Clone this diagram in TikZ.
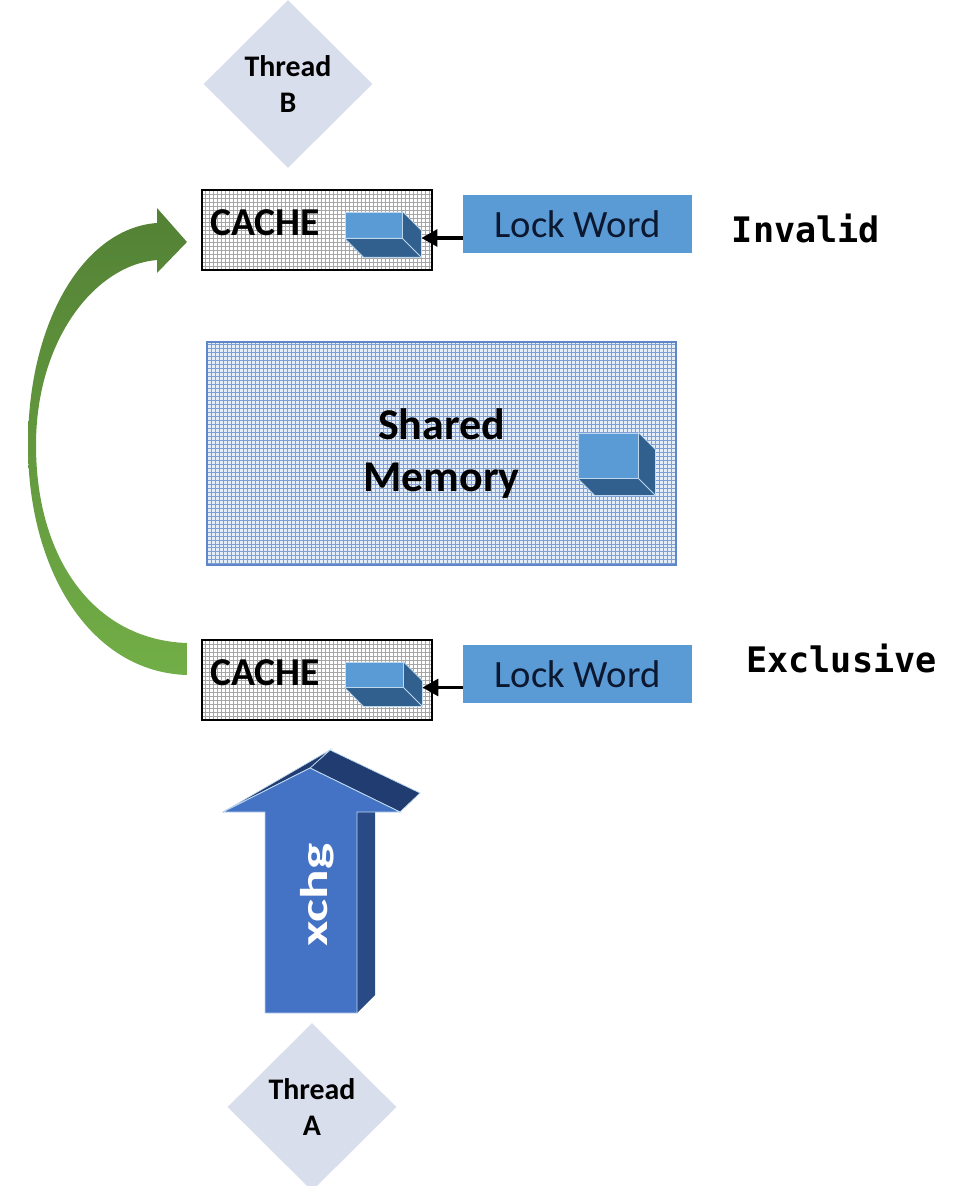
\documentclass[tikz,border=0pt]{standalone}
\usepackage{fontspec}
\usepackage{graphicx}
\usetikzlibrary{shapes.geometric,arrows.meta}

\newfontfamily\calibri{Carlito}
\newfontfamily\consolas{DejaVu Sans Mono}

\definecolor{threadfill}{HTML}{D9DEEC}
\definecolor{lockfill}{HTML}{5B9BD5}
\definecolor{locktext}{HTML}{0C1830}
\definecolor{blockdark}{HTML}{31608F}
\definecolor{blockedge}{HTML}{BDD7EE}
\definecolor{memfill}{HTML}{E3EEF9}
\definecolor{memgrid}{HTML}{7F9FD6}
\definecolor{memborder}{HTML}{5F86C8}
\definecolor{greentop}{HTML}{538135}
\definecolor{greenbottom}{HTML}{72AE47}
\definecolor{xchgfront}{HTML}{4472C4}
\definecolor{xchgtop}{HTML}{203C70}
\definecolor{xchgside}{HTML}{2A4A85}

\tikzset{
  thread/.style={diamond, fill=threadfill, minimum width=3.38cm, minimum height=3.36cm,
    inner sep=0pt, align=center, font=\calibri\bfseries\fontsize{17}{21}\selectfont},
  cachebox/.style={draw=black, fill=white, line width=1.2pt, minimum width=4.6cm, minimum height=1.6cm,
    path picture={\draw[gray!70, line width=0.3pt, step=0.08cm]
      (path picture bounding box.south west) grid (path picture bounding box.north east);}},
  cachelabel/.style={anchor=base west, inner sep=0pt, font=\calibri\bfseries\fontsize{22.5}{22.5}\selectfont},
  lockword/.style={fill=lockfill, minimum width=4.58cm, minimum height=1.16cm, text=locktext,
    font=\calibri\fontsize{22}{22}\selectfont},
  memory/.style={draw=memborder, fill=memfill, line width=1.5pt, minimum width=9.38cm, minimum height=4.46cm,
    align=center, font=\calibri\bfseries\fontsize{25}{30}\selectfont,
    path picture={\draw[memgrid, line width=0.35pt, step=0.08cm]
      (path picture bounding box.south west) grid (path picture bounding box.north east);}},
  blockface/.style={fill=lockfill, draw=blockedge, line width=0.5pt, inner sep=0pt},
  blockside/.style={fill=blockdark, draw=blockedge, line width=0.5pt, line join=round},
  statelabel/.style={anchor=base, inner sep=0pt, font=\consolas\bfseries\fontsize{20}{20}\selectfont},
  lockptr/.style={draw=black, line width=2pt, -{Triangle[length=9pt,width=9.5pt]}},
  greenarrow/.style={top color=greentop, bottom color=greenbottom},
  xchgtext/.style={rotate=90, text=white, inner sep=0pt, font=\calibri\bfseries\fontsize{22}{22}\selectfont}
}

% front face as a node, right and bottom faces drawn behind it
\newcommand{\lockblock}[5]{%
  \node[blockface, minimum width=#3, minimum height=#4] (#1) at #2 {};
  \filldraw[blockside] (#1.north east) -- ([shift={(#5,#5)}]#1.north east)
    -- ([shift={(#5,#5)}]#1.south east) -- ([shift={(#5,#5)}]#1.south west)
    -- (#1.south west) -- (#1.south east) -- cycle;
  \draw[blockedge, line width=0.5pt] (#1.south east) -- ([shift={(#5,#5)}]#1.south east);
}

\begin{document}
\begin{tikzpicture}[x=0.02cm, y=-0.02cm]
  \useasboundingbox (0,0) rectangle (961,1186);

  % threads
  \node[thread] (threadB) at (288,84) {Thread\\B};
  \node[thread] (threadA) at (312,1107) {Thread\\A};

  % cache of thread B
  \node[cachebox] (cacheB) at (317,230) {};
  \node[cachelabel] (cacheBtext) at ([shift={(9,5)}]cacheB.west) {CACHE};
  \lockblock{blkB}{(373.5,225)}{1.14cm}{0.52cm}{19}
  \node[lockword] (lockB) at (577.5,224) {Lock Word};
  \coordinate (tipB) at ([shift={(19,13)}]blkB.east);
  \draw[lockptr] (lockB.west |- tipB) -- (tipB);
  \node[statelabel] (stateB) at (806,242) {Invalid};

  % main memory
  \node[memory] (mem) at (441.5,453.5) {Shared\\Memory};
  \lockblock{blkM}{(608,455.5)}{1.2cm}{0.9cm}{17}

  % cache of thread A
  \node[cachebox] (cacheA) at (317,680) {};
  \node[cachelabel] (cacheAtext) at ([shift={(9,5)}]cacheA.west) {CACHE};
  \lockblock{blkA}{(374,674.5)}{1.16cm}{0.5cm}{19}
  \node[lockword] (lockA) at (577.5,674) {Lock Word};
  \coordinate (tipA) at ([shift={(19,13)}]blkA.east);
  \draw[lockptr] (lockA.west |- tipA) -- (tipA);
  \node[statelabel] (stateA) at (841.5,672) {Exclusive};

  % line moves from cache A over to cache B
  \shade[greenarrow] ([shift={(-14,-5)}]cacheA.west)
    .. controls (90,672) and (28,570) .. (28,445)
    .. controls (28,320) and (85,228) .. (157,223)
    -- (157,208) -- ([shift={(-14,12)}]cacheB.west) -- (157,273) -- (157,260)
    .. controls (95,265) and (36,340) .. (36,445)
    .. controls (36,560) and (95,640) .. ([shift={(-14,-37)}]cacheA.west) -- cycle;

  % xchg block arrow
  \fill[xchgside] (357,1013) -- (375,995) -- (375,812) -- (357,812) -- cycle;
  \filldraw[xchgtop, draw=blockedge, line width=0.4pt] (310,768) -- (400,812) -- (420,793) -- (330,750) -- cycle;
  \filldraw[xchgtop, draw=blockedge, line width=0.4pt] (223,812) -- (310,768) -- (330,750) -- cycle;
  \filldraw[fill=xchgfront, draw=blockedge, line width=0.5pt] (265,1013) -- (265,812) -- (223,812)
    -- (310,768) -- (400,812) -- (357,812) -- (357,1013) -- cycle;
  \node[xchgtext] (xchg) at (317,895) {\scalebox{1.43}[1]{xchg}};
\end{tikzpicture}
\end{document}
